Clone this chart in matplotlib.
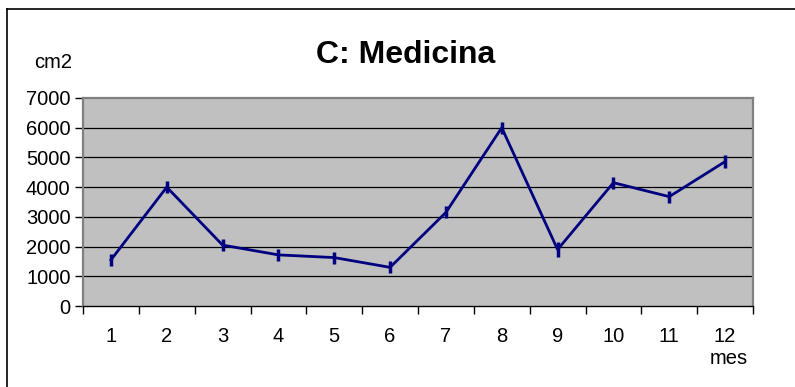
import matplotlib.pyplot as plt
from matplotlib.lines import Line2D

plt.rcParams['font.family'] = ['Liberation Sans', 'DejaVu Sans']

meses = [1, 2, 3, 4, 5, 6, 7, 8, 9, 10, 11, 12]
valores = [1550, 4000, 2050, 1720, 1630, 1300, 3150, 6000, 1900, 4150, 3680, 4860]
errores = [200, 200, 200, 200, 200, 200, 200, 200, 250, 200, 200, 230]
yticks = [0, 1000, 2000, 3000, 4000, 5000, 6000, 7000]

fig = plt.figure(figsize=(7.95, 3.87), dpi=100)
ax = fig.add_axes([83 / 795, 1 - 306 / 387, 670 / 795, 208 / 387])

ax.set_facecolor('#c0c0c0')
for y in yticks[1:-1]:
    ax.axhline(y, color='black', lw=0.9, zorder=1)

ax.errorbar(meses, valores, yerr=errores, color='#000080', lw=2,
            elinewidth=2.5, capsize=0, zorder=3)

ax.set_xlim(0.5, 12.5)
ax.set_ylim(0, 7000)
ax.set_yticks(yticks)
ax.set_yticklabels([str(v) for v in yticks], fontsize=14.5)
ax.set_xticks(meses)
ax.set_xticklabels([str(m) for m in meses], fontsize=14.5)
ax.tick_params(axis='x', length=0, pad=15)
ax.set_xticks([m + 0.5 for m in [0] + meses], minor=True)
ax.tick_params(axis='x', which='minor', length=6, width=1, direction='out')
ax.tick_params(axis='y', length=6, width=1, direction='out', pad=3)

for s in ['top', 'right', 'left']:
    ax.spines[s].set_color('#808080')
    ax.spines[s].set_linewidth(1.6)
ax.spines['bottom'].set_color('black')
ax.spines['bottom'].set_linewidth(1)

fig.text(406 / 795, 1 - 55 / 387, 'C: Medicina', fontsize=23, fontweight='bold',
         ha='center', va='center')
fig.text(53 / 795, 1 - 63 / 387, 'cm2', fontsize=14.5, ha='center', va='center')
fig.text(729 / 795, 1 - 359 / 387, 'mes', fontsize=14.5, ha='center', va='center')

# marco del grafico
fig.add_artist(Line2D([7 / 795, 7 / 795], [0, 1 - 9 / 387], color='black', lw=1.2,
                      transform=fig.transFigure))
fig.add_artist(Line2D([7 / 795, 1], [1 - 9 / 387, 1 - 9 / 387], color='black', lw=1.2,
                      transform=fig.transFigure))

fig.savefig('out.png', dpi=100)
